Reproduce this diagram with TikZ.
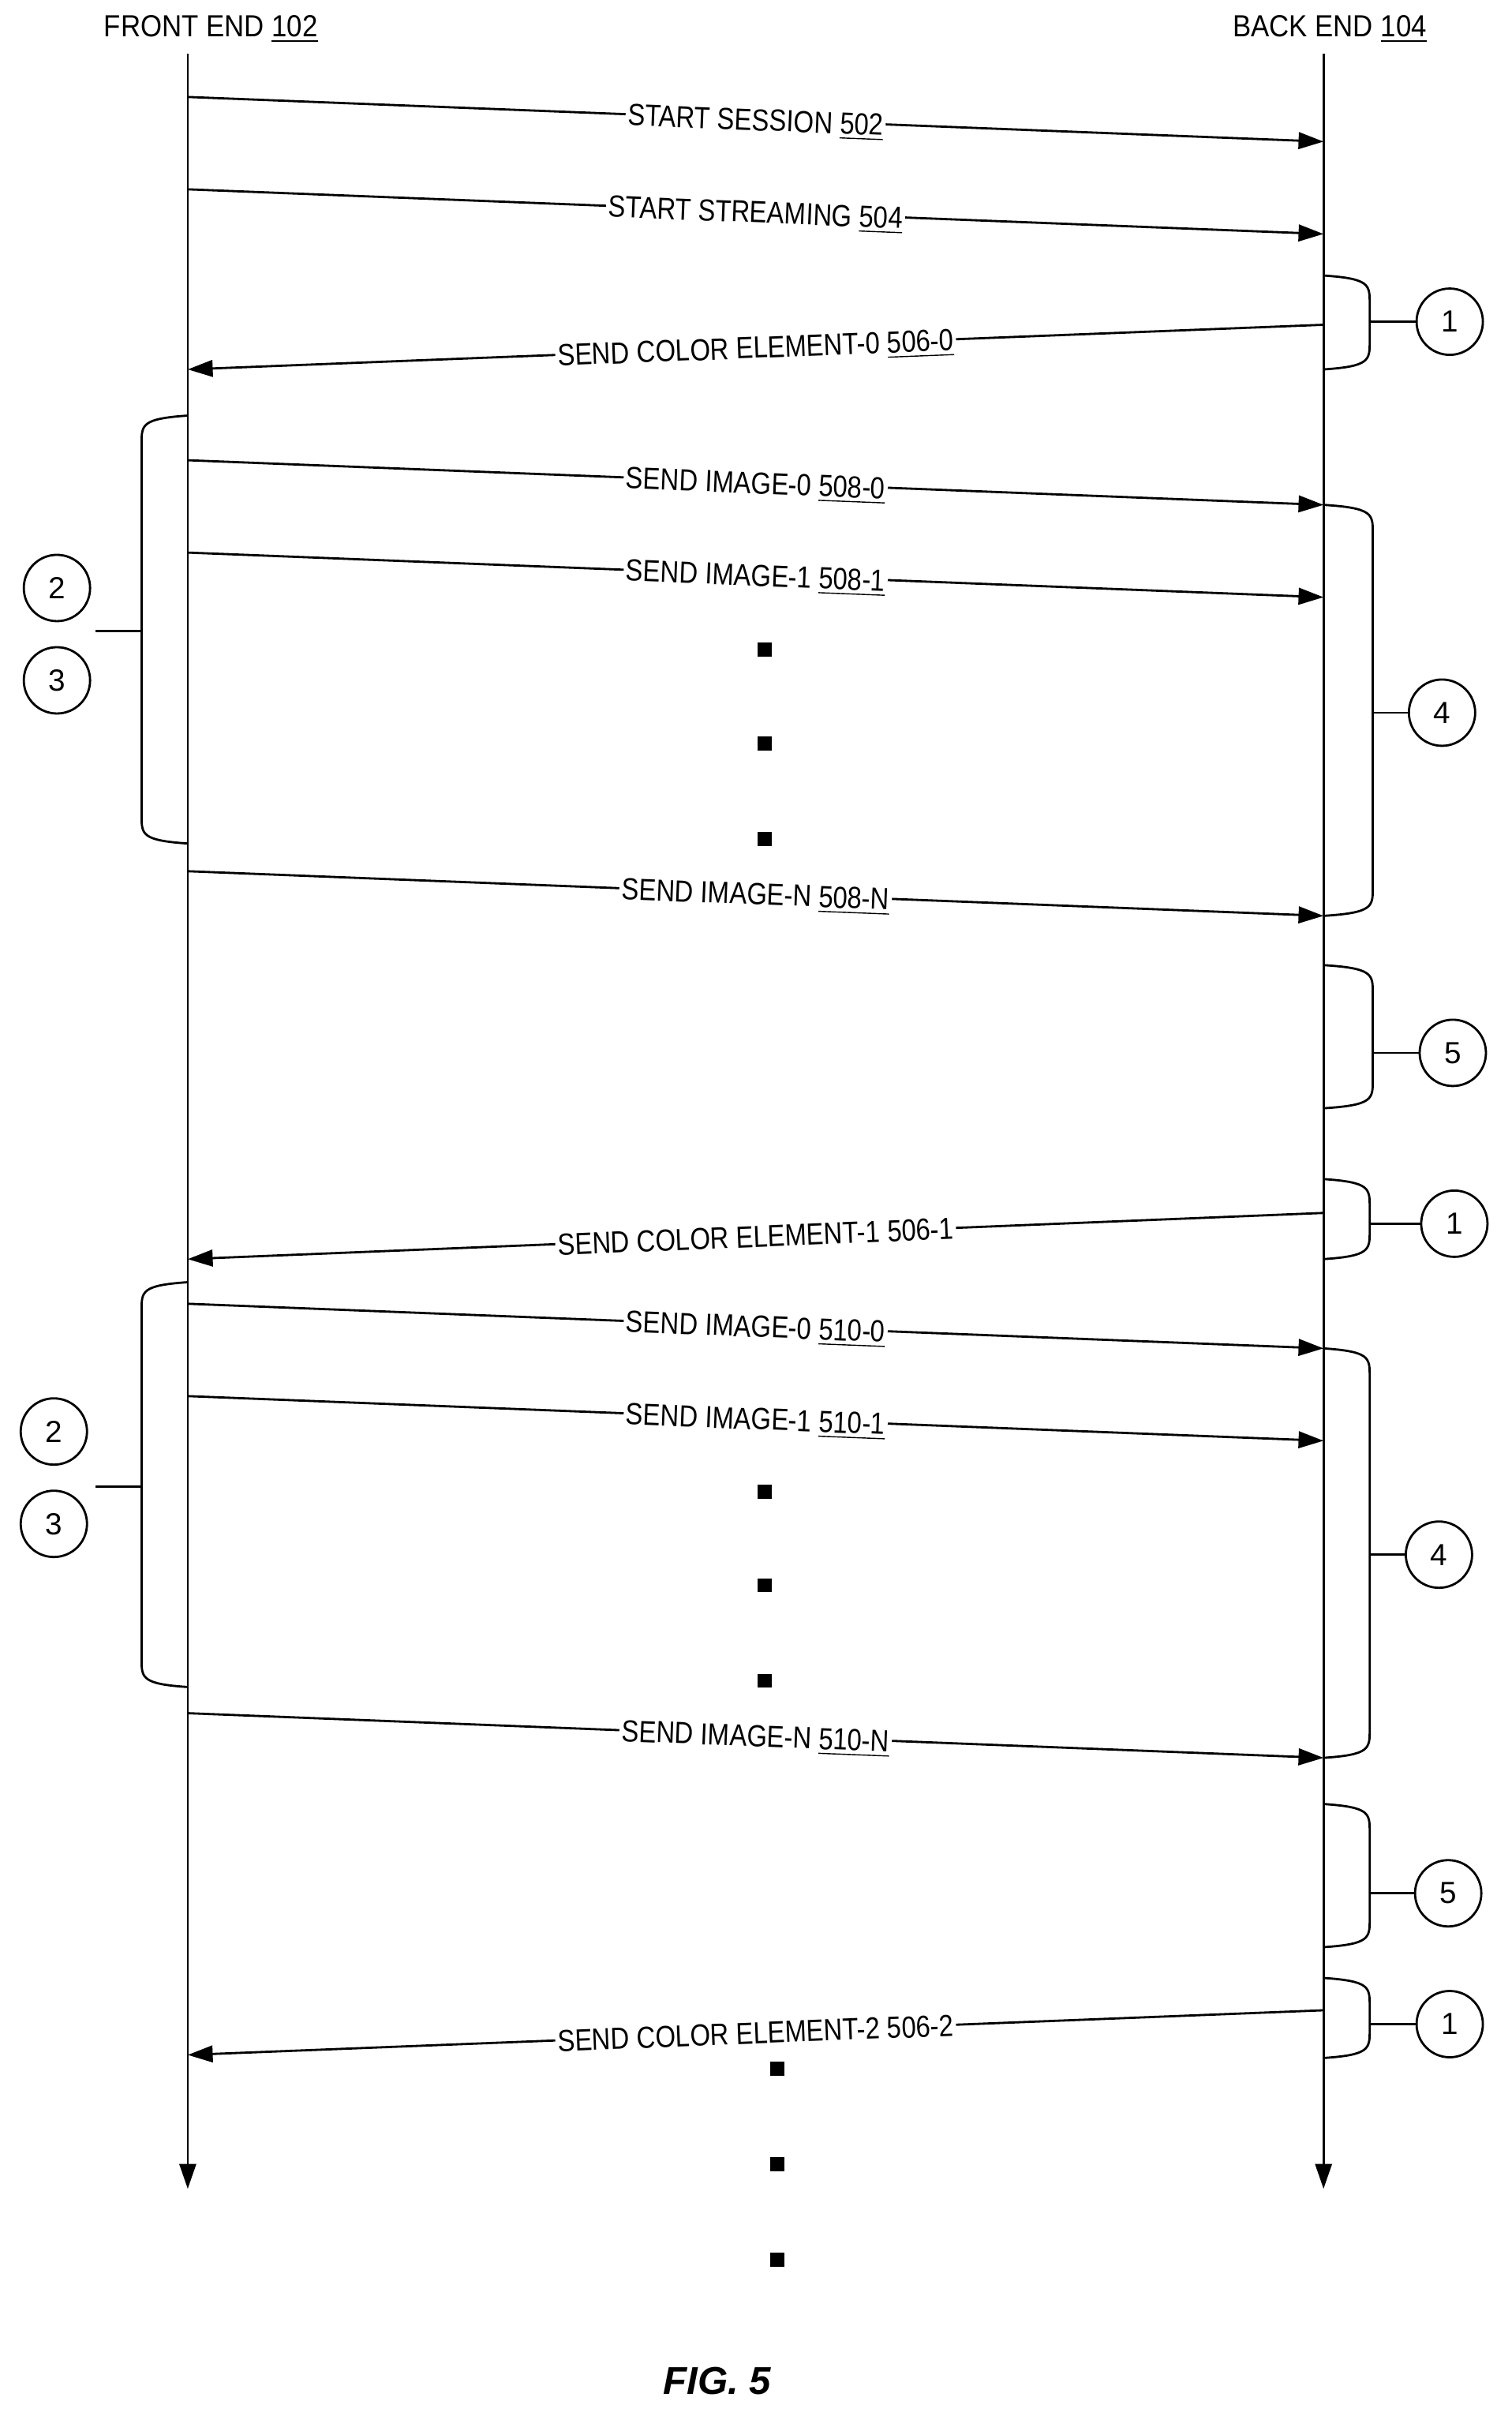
\documentclass[tikz,border=0pt]{standalone}
\usepackage{fontspec}
\setmainfont{Liberation Sans}
\usetikzlibrary{arrows.meta}
\begin{document}
\begin{tikzpicture}[x=0.0195cm,y=-0.0195cm,
  line width=0.8pt,
  msg/.style={-{Triangle[length=9pt,width=6pt]}},
  lab/.style={sloped,anchor=base,yshift=-4pt,inner sep=1pt,fill=white,xscale=0.85,font=\fontsize{11}{13}\selectfont},
  circ/.style={circle,draw,minimum size=0.84cm,inner sep=0pt,font=\fontsize{11}{13}\selectfont},
  dot/.style={fill,minimum size=5pt,inner sep=0pt,rectangle},
  hdr/.style={font=\fontsize{11}{13}\selectfont,xscale=0.9}]
\useasboundingbox (0,0) rectangle (982,1569.6);
\node[hdr] (fe) at (137,19) {FRONT END \underline{102}};
\node[hdr] (be) at (864,19) {BACK END \underline{104}};
\coordinate (lt) at (122,35); \coordinate (lb) at (122,1422);
\coordinate (rt) at (860,35); \coordinate (rb) at (860,1422);
\draw[msg] (lt) -- (lb);
\draw[msg] (rt) -- (rb);
\def\RM#1#2#3{\draw[msg] (122,#1) -- node[lab]{#3} (860,#2);}
\def\LM#1#2#3{\draw[msg] (860,#1) -- node[lab]{#3} (122,#2);}
\RM{63}{92}{START SESSION \underline{502}}
\RM{123}{152}{START STREAMING \underline{504}}
\LM{211}{240}{SEND COLOR ELEMENT-0 \underline{506-0}}
\RM{299}{328}{SEND IMAGE-0 \underline{508-0}}
\RM{359}{388}{SEND IMAGE-1 \underline{508-1}}
\RM{566}{595}{SEND IMAGE-N \underline{508-N}}
\LM{788}{818}{SEND COLOR ELEMENT-1 506-1}
\RM{847}{876}{SEND IMAGE-0 \underline{510-0}}
\RM{907}{936}{SEND IMAGE-1 \underline{510-1}}
\RM{1113}{1142}{SEND IMAGE-N \underline{510-N}}
\LM{1306}{1335}{SEND COLOR ELEMENT-2 506-2}
\foreach \y [count=\i] in {422,483,545}{\node[dot] (da\i) at (497,\y) {};}
\foreach \y [count=\i] in {969,1030,1092}{\node[dot] (db\i) at (497,\y) {};}
\foreach \y [count=\i] in {1344,1406,1468}{\node[dot] (dc\i) at (505,\y) {};}
\def\RB#1#2#3#4#5#6{%
 \draw (860,#1) .. controls (#3,#1+2) and (#3,#1+6) .. (#3,#1+18) -- (#3,#2-18) .. controls (#3,#2-6) and (#3,#2-2) .. (860,#2);
 \node[circ] (#6) at (#4,#5) {#6};
 \draw (#3,#5) -- (#6);}
\RB{179}{240}{890}{942}{209}{1}
\RB{328}{595}{892}{937}{463}{4}
\RB{627}{720}{892}{944}{684}{5}
\RB{766}{818}{890}{945}{795}{1}
\RB{876}{1142}{890}{935}{1010}{4}
\RB{1172}{1265}{890}{941}{1230}{5}
\RB{1285}{1337}{890}{942}{1315}{1}
\def\LB#1#2#3#4#5#6{%
 \draw (122,#1) .. controls (92,#1+2) and (92,#1+6) .. (92,#1+18) -- (92,#2-18) .. controls (92,#2-6) and (92,#2-2) .. (122,#2);
 \draw (92,#3) -- (62,#3);
 \node[circ] (c2#6) at (#4,#5) {2};
 \node[circ] (c3#6) at (#4,#5+60) {3};}
\LB{270}{548}{410}{37}{382}{a}
\LB{833}{1096}{966}{35}{930}{b}
\node[font=\bfseries\itshape\fontsize{14}{16}\selectfont] (fig) at (466,1547) {FIG. 5};
\end{tikzpicture}
\end{document}
